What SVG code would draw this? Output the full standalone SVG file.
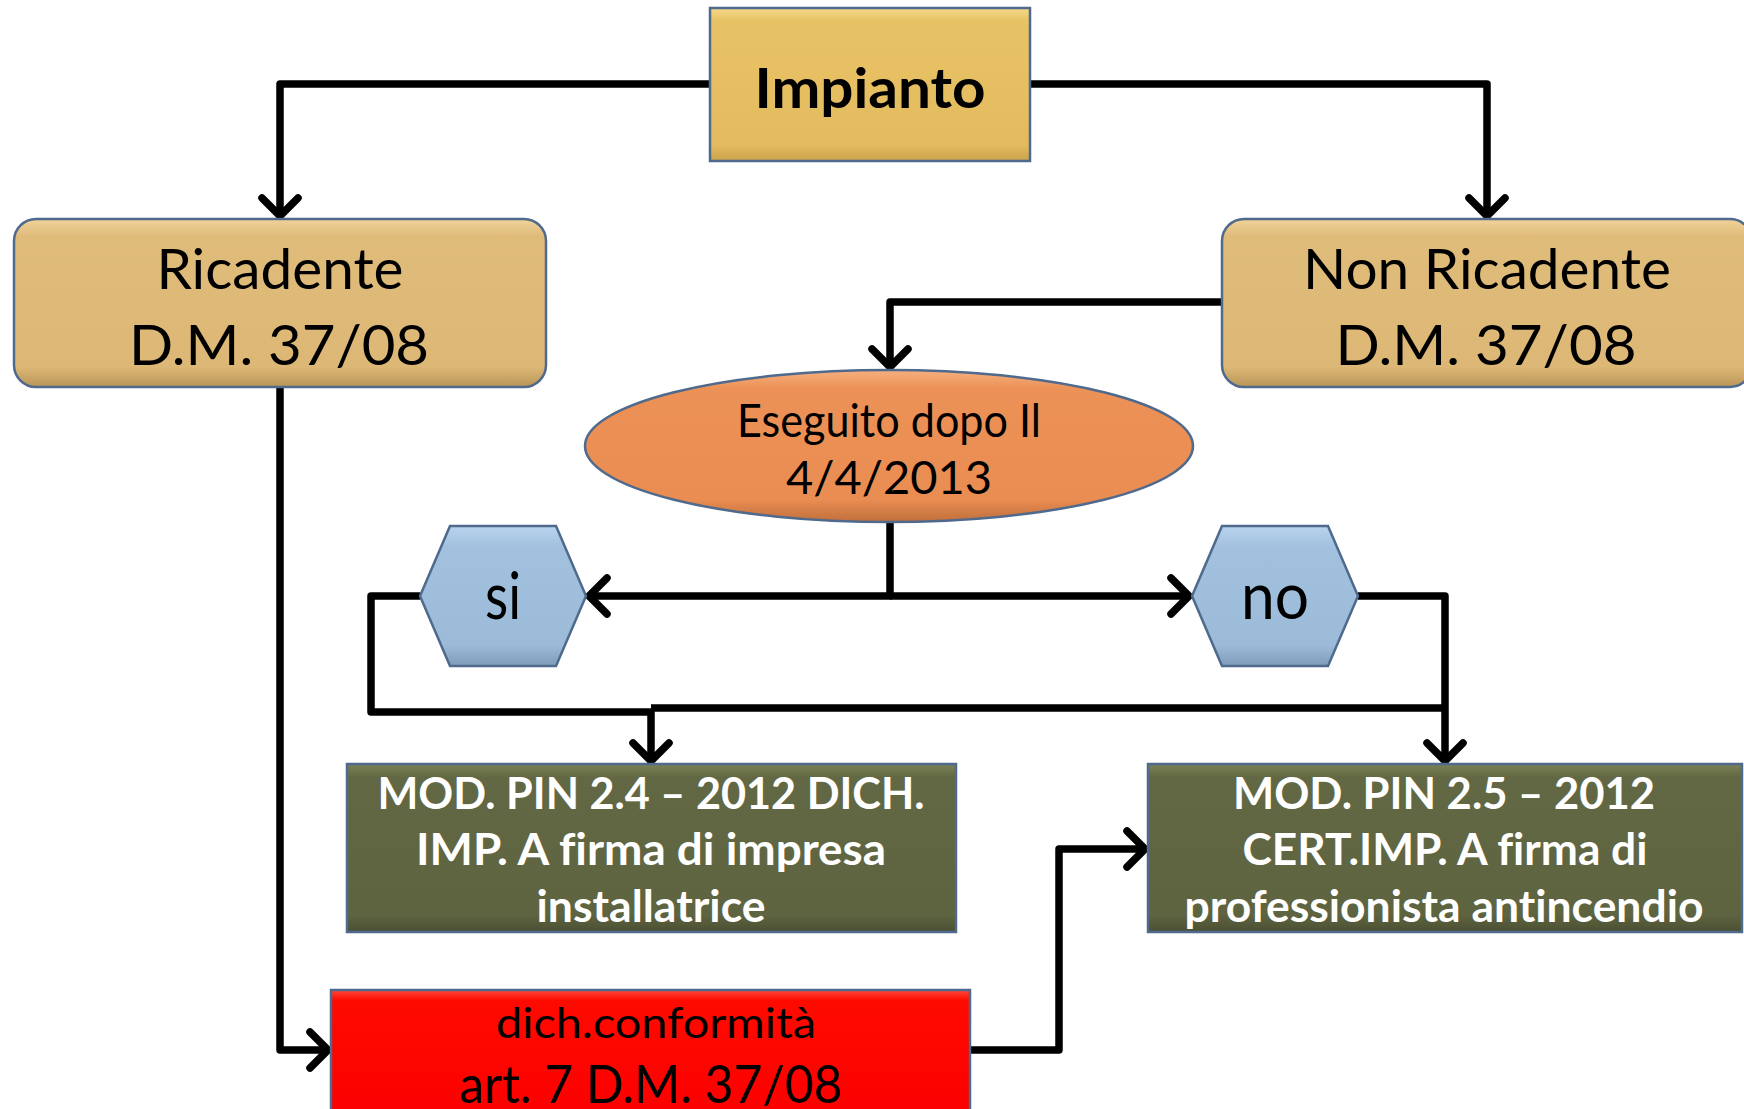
<svg xmlns="http://www.w3.org/2000/svg" width="1744" height="1109" viewBox="0 0 1744 1109">
<style>
.t{font-family:Lato,"Open Sans","DejaVu Sans",sans-serif;text-anchor:middle;fill:#000;font-variant-ligatures:none;font-feature-settings:"liga" 0}
.b{font-weight:700}
.w{fill:#fff;font-weight:700}
.c{fill:none;stroke:#000;stroke-width:7.5;stroke-linejoin:round;stroke-linecap:butt}
.edge{stroke:#4f6a8c;stroke-width:2.5}
</style>
<defs>
<linearGradient id="gGold" x1="0" y1="0" x2="0" y2="1">
<stop offset="0" stop-color="#f4d98a"/><stop offset="0.08" stop-color="#e8c366"/><stop offset="0.9" stop-color="#e3bb5e"/><stop offset="1" stop-color="#c9a24c"/>
</linearGradient>
<linearGradient id="gTan" x1="0" y1="0" x2="0" y2="1">
<stop offset="0" stop-color="#f0d39a"/><stop offset="0.1" stop-color="#e0bc7b"/><stop offset="0.88" stop-color="#dcb776"/><stop offset="1" stop-color="#b99659"/>
</linearGradient>
<linearGradient id="gOrange" x1="0" y1="0" x2="0" y2="1">
<stop offset="0" stop-color="#f6b07f"/><stop offset="0.12" stop-color="#ec9157"/><stop offset="0.85" stop-color="#ea8d52"/><stop offset="1" stop-color="#c06f3c"/>
</linearGradient>
<linearGradient id="gBlue" x1="0" y1="0" x2="0" y2="1">
<stop offset="0" stop-color="#b9d3ec"/><stop offset="0.15" stop-color="#a2c1df"/><stop offset="0.85" stop-color="#9cbbd9"/><stop offset="1" stop-color="#7f9dbb"/>
</linearGradient>
<linearGradient id="gOlive" x1="0" y1="0" x2="0" y2="1">
<stop offset="0" stop-color="#7b8057"/><stop offset="0.08" stop-color="#626843"/><stop offset="0.9" stop-color="#5e6440"/><stop offset="1" stop-color="#4a4f32"/>
</linearGradient>
<linearGradient id="gRed" x1="0" y1="0" x2="0" y2="1">
<stop offset="0" stop-color="#ff4a3a"/><stop offset="0.08" stop-color="#fe0a00"/><stop offset="1" stop-color="#fb0000"/>
</linearGradient>
<marker id="arr" markerUnits="userSpaceOnUse" viewBox="-24 -24 48 48" markerWidth="48" markerHeight="48" refX="0" refY="0" orient="auto" overflow="visible">
<path d="M-18,-18 L0,0 L-18,18" fill="none" stroke="#000" stroke-width="7.5" stroke-linecap="round" stroke-linejoin="round"/>
</marker>
</defs>

<g id="connectors">
<path class="c" d="M710,84 H280 V216" marker-end="url(#arr)"/>
<path class="c" d="M1030,84 H1487 V216" marker-end="url(#arr)"/>
<path class="c" d="M1222,302 H890 V367" marker-end="url(#arr)"/>
<path class="c" d="M890,523 V596 H589" marker-end="url(#arr)"/>
<path class="c" d="M890,596 H1189" marker-end="url(#arr)"/>
<path class="c" d="M420,596 H371 V712 H651 V761" marker-end="url(#arr)"/>
<path class="c" d="M651,708 H1445"/>
<path class="c" d="M1358,596 H1445 V761" marker-end="url(#arr)"/>
<path class="c" d="M280,387 V1050 H328" marker-end="url(#arr)"/>
<path class="c" d="M970,1050 H1059 V849 H1145" marker-end="url(#arr)"/>
</g>

<g id="impianto">
<rect x="710" y="8" width="320" height="153" fill="url(#gGold)" class="edge"/>
<text class="t b" x="870" y="108" font-size="56" textLength="231" lengthAdjust="spacingAndGlyphs">Impianto</text>
</g>

<g id="ricadente">
<rect x="14" y="219" width="532" height="168" rx="22" fill="url(#gTan)" class="edge"/>
<text class="t" x="280" y="289" font-size="56" textLength="247" lengthAdjust="spacingAndGlyphs">Ricadente</text>
<text class="t" x="279" y="365" font-size="56" textLength="300" lengthAdjust="spacingAndGlyphs">D.M. 37/08</text>
</g>

<g id="non-ricadente">
<rect x="1222" y="219" width="530" height="168" rx="22" fill="url(#gTan)" class="edge"/>
<text class="t" x="1487" y="289" font-size="56" textLength="368" lengthAdjust="spacingAndGlyphs">Non Ricadente</text>
<text class="t" x="1486" y="365" font-size="56" textLength="301" lengthAdjust="spacingAndGlyphs">D.M. 37/08</text>
</g>

<g id="eseguito">
<ellipse cx="889" cy="446" rx="304" ry="76" fill="url(#gOrange)" class="edge"/>
<text class="t" x="889" y="437" font-size="46" textLength="304" lengthAdjust="spacingAndGlyphs">Eseguito dopo Il</text>
<text class="t" x="889" y="494" font-size="46" textLength="206" lengthAdjust="spacingAndGlyphs">4/4/2013</text>
</g>

<g id="si">
<polygon points="420,596 450,526 556,526 586,596 556,666 450,666" fill="url(#gBlue)" class="edge"/>
<text class="t" x="503" y="619" font-size="66" textLength="36" lengthAdjust="spacingAndGlyphs">si</text>
</g>

<g id="no">
<polygon points="1192,596 1222,526 1328,526 1358,596 1328,666 1222,666" fill="url(#gBlue)" class="edge"/>
<text class="t" x="1275" y="619" font-size="66" textLength="68" lengthAdjust="spacingAndGlyphs">no</text>
</g>

<g id="mod-pin-24">
<rect x="347" y="764" width="609" height="168" fill="url(#gOlive)" class="edge"/>
<text class="t w" x="651" y="809" font-size="44" textLength="547" lengthAdjust="spacingAndGlyphs">MOD. PIN 2.4 – 2012 DICH.</text>
<text class="t w" x="651" y="865" font-size="44" textLength="470" lengthAdjust="spacingAndGlyphs">IMP. A firma di impresa</text>
<text class="t w" x="651" y="922" font-size="44" textLength="229" lengthAdjust="spacingAndGlyphs">installatrice</text>
</g>

<g id="mod-pin-25">
<rect x="1148" y="764" width="594" height="168" fill="url(#gOlive)" class="edge"/>
<text class="t w" x="1444" y="809" font-size="44" textLength="422" lengthAdjust="spacingAndGlyphs">MOD. PIN 2.5 – 2012</text>
<text class="t w" x="1445" y="865" font-size="44" textLength="405" lengthAdjust="spacingAndGlyphs">CERT.IMP. A firma di</text>
<text class="t w" x="1444" y="922" font-size="44" textLength="519" lengthAdjust="spacingAndGlyphs">professionista antincendio</text>
</g>

<g id="dich-conformita">
<rect x="331" y="990" width="639" height="130" fill="url(#gRed)" class="edge"/>
<text class="t" x="656" y="1038" font-size="43" textLength="320" lengthAdjust="spacingAndGlyphs">dich.conformità</text>
<text class="t" x="651" y="1103" font-size="53" textLength="383" lengthAdjust="spacingAndGlyphs">art. 7 D.M. 37/08</text>
</g>
</svg>
